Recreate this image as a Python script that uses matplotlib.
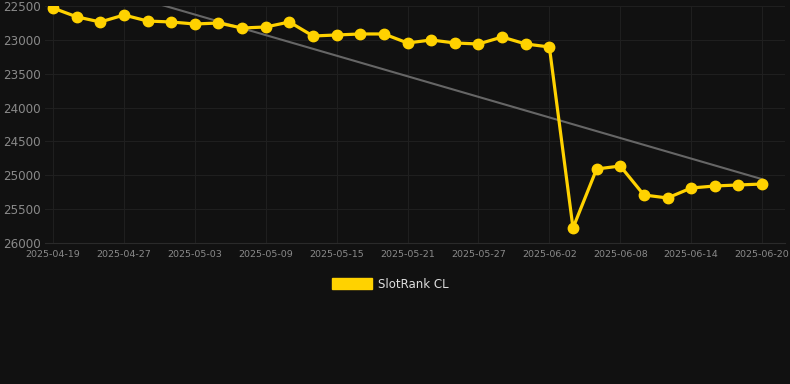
import matplotlib.pyplot as plt
import numpy as np
from matplotlib.patches import Patch

# dates shown on x axis (one point per entry)
dates = ['2025-04-19', '2025-04-21', '2025-04-24', '2025-04-27', '2025-04-29',
         '2025-05-01', '2025-05-03', '2025-05-05', '2025-05-07', '2025-05-09',
         '2025-05-11', '2025-05-13', '2025-05-15', '2025-05-17', '2025-05-19',
         '2025-05-21', '2025-05-23', '2025-05-25', '2025-05-27', '2025-05-29',
         '2025-05-31', '2025-06-02', '2025-06-04', '2025-06-06', '2025-06-08',
         '2025-06-10', '2025-06-12', '2025-06-14', '2025-06-16', '2025-06-18',
         '2025-06-20']
rank = [22530, 22660, 22736, 22633, 22722, 22736, 22766, 22751, 22825, 22810,
        22736, 22943, 22928, 22913, 22913, 23046, 23002, 23046, 23061, 22958,
        23061, 23105, 25778, 24907, 24863, 25291, 25335, 25188, 25158, 25143,
        25129]
yticks = [22500, 23000, 23500, 24000, 24500, 25000, 25500, 26000]

bg = '#111111'
fig = plt.figure(figsize=(7.9, 3.84), dpi=100, facecolor=bg)
ax = fig.add_axes([45 / 790, 1 - 243 / 384, 740 / 790, 237 / 384])
ax.set_facecolor(bg)

x = np.arange(len(dates))
# linear trend
k, b = np.polyfit(x, rank, 1)
ax.plot(x, k * x + b, color='#666666', lw=1.5, zorder=2)

ax.plot(x, rank, color='#FFD200', lw=2.3, marker='o', ms=7.5,
        markerfacecolor='#FFD200', markeredgecolor='#FFD200', zorder=3,
        label='SlotRank CL')

ax.set_ylim(26000, 22500)
ax.set_xlim(-0.34, 30.97)
ax.set_yticks(yticks)
ax.set_yticklabels([str(v) for v in yticks])
ax.set_xticks(x[::3])
ax.set_xticklabels(dates[::3])

ax.grid(True, color='#1f1f1f', lw=0.8)
ax.set_axisbelow(True)
for s in ax.spines.values():
    s.set_visible(False)
ax.spines['bottom'].set_visible(True)
ax.spines['bottom'].set_color('#2a2a2a')
ax.tick_params(axis='y', colors='#8a8a8a', labelsize=8.6, length=0, pad=3)
ax.tick_params(axis='x', colors='#8a8a8a', labelsize=6.8, length=0, pad=5)

h = [Patch(facecolor='#FFD200', edgecolor='#FFD200')]
leg = fig.legend(h, ['SlotRank CL'], loc='center', bbox_to_anchor=(390 / 790, 1 - 284 / 384),
                 frameon=False, fontsize=8.5, handlelength=3.4, handleheight=1.0,
                 handletextpad=0.5)
for t in leg.get_texts():
    t.set_color('#dddddd')

fig.savefig('out.png', dpi=100, facecolor=bg)
